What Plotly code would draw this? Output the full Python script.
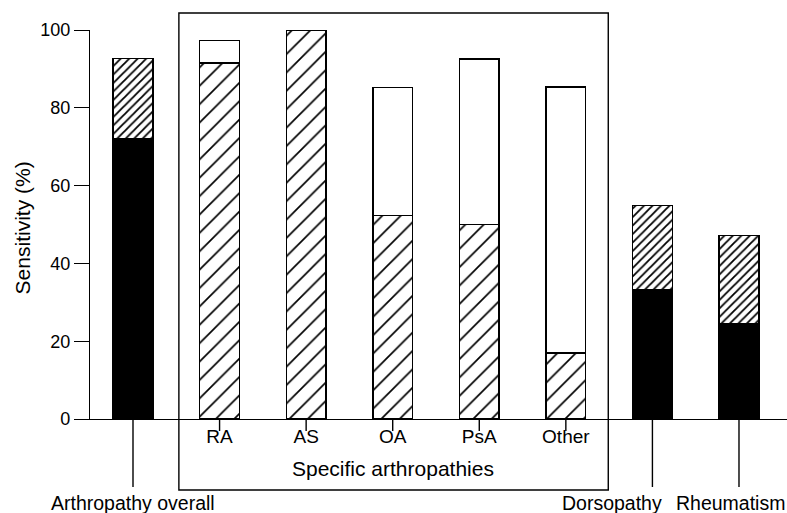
import plotly.graph_objects as go

categories = ["Arthropathy overall", "RA", "AS", "OA", "PsA", "Other", "Dorsopathy", "Rheumatism"]
group = ["outer", "inner", "inner", "inner", "inner", "inner", "outer", "outer"]
lower = [72.0, 91.5, 100.0, 52.3, 50.0, 17.0, 33.2, 24.6]
total = [92.7, 97.3, 100.0, 85.2, 92.5, 85.3, 54.9, 47.1]
y_ticks = [0, 20, 40, 60, 80, 100]
inner_title = "Specific arthropathies"
y_title = "Sensitivity (%)"

xs = list(range(len(categories)))
FONT = "Liberation Sans, Arial, Helvetica, sans-serif"
LW = 1.4

def pick(vals, g):
    return [v if gg == g else None for v, gg in zip(vals, group)]

upper = [t - l for t, l in zip(total, lower)]

fig = go.Figure()
# outer: black base, dense hatch top
fig.add_bar(x=xs, y=pick(lower, "outer"), marker=dict(color="black", line=dict(color="black", width=LW)),
            width=0.46, showlegend=False, hoverinfo="skip")
fig.add_bar(x=xs, y=pick(upper, "outer"),
            marker=dict(color="white", line=dict(color="black", width=LW),
                        pattern=dict(shape="/", fgcolor="black", bgcolor="white", size=6,
                                     solidity=0.3, fgopacity=1)),
            width=0.46, showlegend=False, hoverinfo="skip")
# inner: sparse hatch base, white top
fig.add_bar(x=xs, y=pick(lower, "inner"),
            marker=dict(color="white", line=dict(color="black", width=LW),
                        pattern=dict(shape="/", fgcolor="black", bgcolor="white", size=13,
                                     solidity=0.13, fgopacity=1)),
            width=0.46, showlegend=False, hoverinfo="skip")
fig.add_bar(x=xs, y=pick(upper, "inner"), marker=dict(color="white", line=dict(color="black", width=LW)),
            width=0.46, showlegend=False, hoverinfo="skip")

inner_idx = [i for i, g in enumerate(group) if g == "inner"]
outer_idx = [i for i, g in enumerate(group) if g == "outer"]

H = 389.0
W = 697.0
shapes = []
for i in outer_idx:
    shapes.append(dict(type="line", xref="x", yref="paper", x0=i, x1=i, y0=0, y1=-68 / H,
                       line=dict(color="black", width=LW)))
for i in inner_idx:
    shapes.append(dict(type="line", xref="x", yref="paper", x0=i, x1=i, y0=0, y1=-12 / H,
                       line=dict(color="black", width=LW)))
# box around specific arthropathies
shapes.append(dict(type="rect", xref="x", yref="paper",
                   x0=inner_idx[0] - 0.47, x1=inner_idx[-1] + 0.49,
                   y0=-71 / H, y1=406 / H, line=dict(color="black", width=LW), layer="below"))

annotations = [
    dict(text=inner_title, x=(inner_idx[0] + inner_idx[-1]) / 2, xref="x", y=-49 / H, yref="paper",
         showarrow=False, xanchor="center", yanchor="middle", font=dict(size=21, family=FONT, color="black")),
    dict(text=y_title, x=-68 / W, xref="paper", y=0.49, yref="paper", textangle=-90,
         showarrow=False, xanchor="center", yanchor="middle", font=dict(size=21, family=FONT, color="black")),
    dict(text=categories[0], x=0, xref="x", y=-84 / H, yref="paper", showarrow=False,
         xanchor="center", yanchor="middle", font=dict(size=19.5, family=FONT, color="black")),
    dict(text=categories[6], x=5.53, xref="x", y=-84 / H, yref="paper", showarrow=False,
         xanchor="center", yanchor="middle", font=dict(size=19.5, family=FONT, color="black")),
    dict(text=categories[7], x=1.0, xref="paper", y=-84 / H, yref="paper", showarrow=False,
         xanchor="right", yanchor="middle", font=dict(size=19.5, family=FONT, color="black")),
]

fig.update_layout(
    width=787, height=513,
    margin=dict(l=90, r=0, t=30, b=94, pad=0),
    barmode="stack",
    plot_bgcolor="white", paper_bgcolor="white",
    font=dict(family=FONT, color="black", size=18),
    shapes=shapes, annotations=annotations,
    hovermode=False,
    xaxis=dict(range=[-0.4967, 7.5546], showgrid=False, zeroline=False, showline=True,
               linecolor="black", linewidth=LW, ticks="",
               tickvals=inner_idx, ticktext=[categories[i] for i in inner_idx],
               tickfont=dict(size=19, family=FONT, color="black")),
    yaxis=dict(range=[0, 100], showgrid=False, zeroline=False, showline=True,
               linecolor="black", linewidth=LW, ticks="outside", ticklen=15, tickwidth=LW,
               tickcolor="black", tickvals=y_ticks, tickfont=dict(size=18, family=FONT, color="black")),
)

fig.write_html("out.html", config={"displayModeBar": False},
               post_script="document.body.style.margin='0';document.body.style.overflow='hidden';")
